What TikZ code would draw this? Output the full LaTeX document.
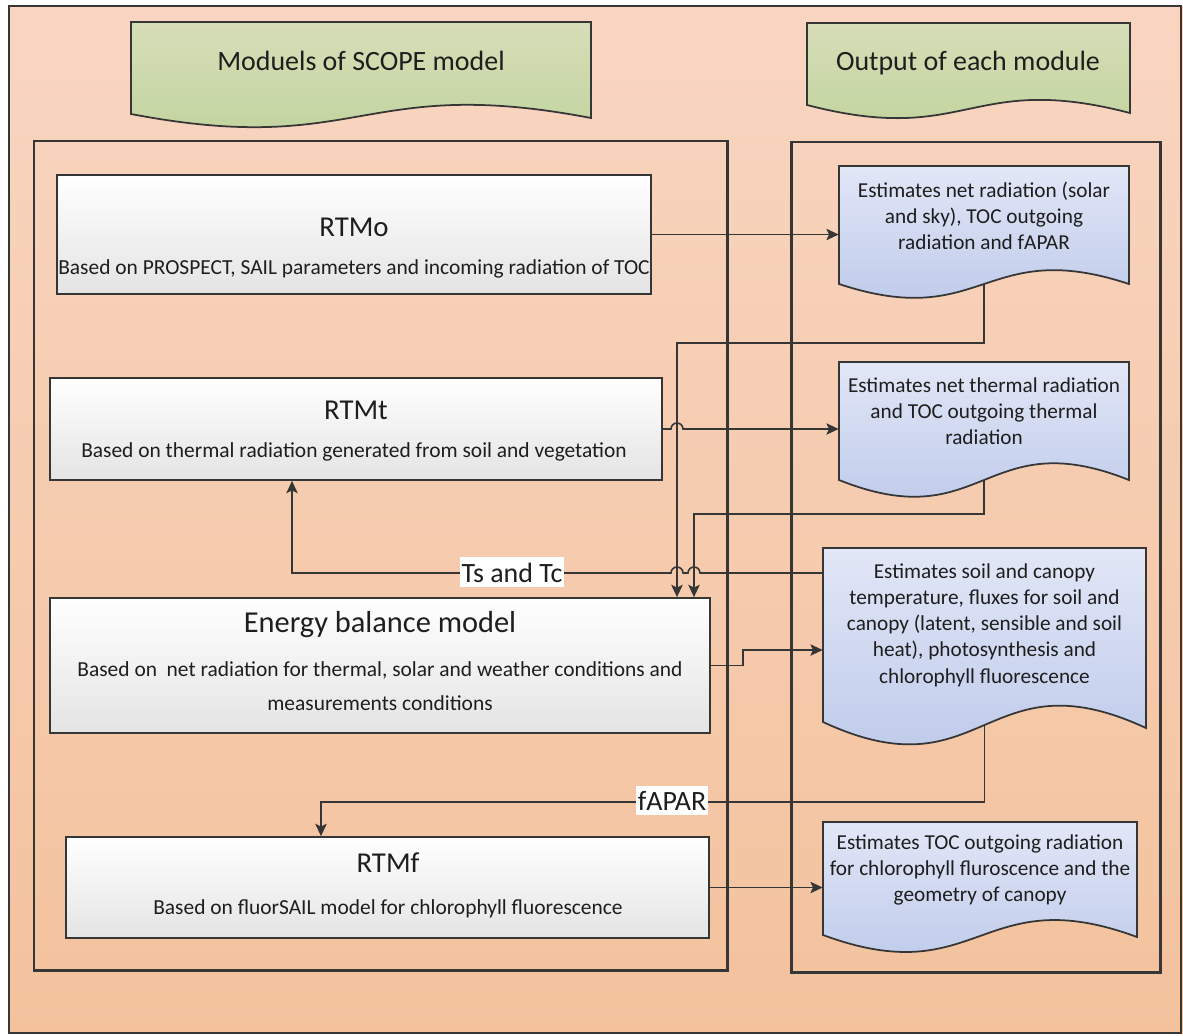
\documentclass[tikz,border=0pt]{standalone}
\usepackage{fontspec}
\setmainfont{Carlito}
\usetikzlibrary{arrows.meta,calc}
\definecolor{ink}{HTML}{363636}
\definecolor{txt}{HTML}{1E1E1E}
\definecolor{bgtop}{HTML}{F9D5C1}
\definecolor{bgbot}{HTML}{F3C29D}
\definecolor{grtop}{HTML}{D7DEB8}
\definecolor{grbot}{HTML}{BDD29A}
\definecolor{bltop}{HTML}{E2E7F7}
\definecolor{blbot}{HTML}{B8C5E8}
\definecolor{whbot}{HTML}{E4E4E4}
\newcommand\docshape[7]{\path[#1] (#2,#3) -- (#4,#3) -- (#4,#6) .. controls ({(#2+#4)/2},{#6-#7}) and ({(#2+#4)/2},{#5+#7}) .. (#2,#5) -- cycle;}
\tikzset{
  bigbox/.style={draw=ink, line width=1.7pt},
  modbox/.style={draw=ink, line width=1pt, top color=white, bottom color=whbot, rectangle, inner sep=0pt},
  docshade/.style={draw=ink, line width=1pt, top color=bltop, bottom color=blbot},
  bannershade/.style={draw=ink, line width=1pt, top color=grtop, bottom color=grbot},
  docanchor/.style={rectangle, inner sep=0pt},
  conn/.style={draw=ink, line width=0.9pt},
  arr/.style={conn, -{Stealth[length=7pt,width=6.5pt,inset=1.5pt]}},
  bannertxt/.style={font=\fontsize{15.9}{19}\selectfont, text=txt, anchor=base, inner sep=0pt},
  titletxt/.style={font=\fontsize{16.4}{19.7}\selectfont, text=txt, anchor=base, inner sep=0pt},
  bigtitletxt/.style={font=\fontsize{17.3}{20.8}\selectfont, text=txt, anchor=base, inner sep=0pt},
  subtxt/.style={font=\fontsize{12.2}{14.6}\selectfont, text=txt, anchor=base, inner sep=0pt},
  doctxt/.style={font=\fontsize{12.1}{14.9}\selectfont, text=txt, align=center, inner sep=0pt},
  lbl/.style={font=\fontsize{15.9}{19}\selectfont, text=txt, fill=white, inner xsep=1pt, inner ysep=3pt, anchor=base}
}
\begin{document}
\begin{tikzpicture}[x=0.02cm,y=-0.02cm]
\useasboundingbox (0,0) rectangle (1183,1035);
\fill[white] (0,0) rectangle (1183,1035);
\shade[top color=bgtop, bottom color=bgbot] (9,6) rectangle (1183,1033);
\draw[ink, line width=0.6pt] (9,6) rectangle (1181,1033);

% banners
\docshape{bannershade}{131}{22}{591}{114}{118}{44}
\docshape{bannershade}{807}{23}{1130}{105}{113}{42}
\node[bannertxt] (bl) at (361,70) {Moduels of SCOPE model};
\node[bannertxt] (br) at (968,70) {Output of each module};

% big boxes
\draw[bigbox] (34,141) rectangle (727,970);
\draw[bigbox] (791,142) rectangle (1160,972);

% output documents
\docshape{docshade}{839}{166}{1129}{284}{284}{48}
\docshape{docshade}{839}{362}{1129}{480}{480}{58}
\docshape{docshade}{823}{548}{1146}{722}{728}{75}
\docshape{docshade}{823}{822}{1137}{935}{937}{58}
\node[docanchor, minimum width=5.8cm, minimum height=2.36cm] (d1) at (984,225) {};
\node[docanchor, minimum width=5.8cm, minimum height=2.36cm] (d2) at (984,421) {};
\node[docanchor, minimum width=6.46cm, minimum height=3.54cm] (d3) at (984.5,636.5) {};
\node[docanchor, minimum width=6.28cm, minimum height=2.28cm] (d4) at (980,879) {};
\node[doctxt] (d1t) at (984,216) {Estimates net radiation (solar\\and sky), TOC outgoing\\radiation and fAPAR};
\node[doctxt] (d2t) at (984,411) {Estimates net thermal radiation\\and TOC outgoing thermal\\radiation};
\node[doctxt] (d3t) at (984.5,625) {Estimates soil and canopy\\temperature, fluxes for soil and\\canopy (latent, sensible and soil\\heat), photosynthesis and\\chlorophyll fluorescence};
\node[doctxt] (d4t) at (980,870) {Estimates TOC outgoing radiation\\for chlorophyll fluroscence and the\\geometry of canopy};

% module boxes
\node[modbox, minimum width=11.88cm, minimum height=2.38cm] (rtmo) at (354,234.5) {};
\node[modbox, minimum width=12.24cm, minimum height=2.04cm] (rtmt) at (356,429) {};
\node[modbox, minimum width=13.2cm, minimum height=2.7cm] (energy) at (380,665.5) {};
\node[modbox, minimum width=12.86cm, minimum height=2.02cm] (rtmf) at (387.5,887.5) {};

\node[titletxt] (rtmoT) at (354,236) {RTMo};
\node[subtxt] (rtmoS) at (354,274) {Based on PROSPECT, SAIL parameters and incoming radiation of TOC};
\node[titletxt] (rtmtT) at (356,419) {RTMt};
\node[subtxt] (rtmtS) at (354,457) {Based on thermal radiation generated from soil and vegetation};
\node[bigtitletxt] (enT) at (380,632) {Energy balance model};
\node[subtxt] (enS1) at (380,676) {Based on \ net radiation for thermal, solar and weather conditions and};
\node[subtxt] (enS2) at (380,710) {measurements conditions};
\node[titletxt] (rtmfT) at (388,872) {RTMf};
\node[subtxt] (rtmfS) at (388,914) {Based on fluorSAIL model for chlorophyll fluorescence};

% connectors
\coordinate (j1) at (677,343);
\coordinate (j2) at (694,514);
\coordinate (e1) at (743,650);
\coordinate (tsc) at (292,573);
\coordinate (fa) at (321,802);

\draw[arr] (rtmo.east) -- (rtmo.east -| d1.west);
\draw[arr] (rtmt.east) -- ($(j1 |- rtmt.east)+(-6,0)$) arc[start angle=180, end angle=0, radius=0.12cm] -- (rtmt.east -| d2.west);
\draw[arr] (d1.south) |- (j1) -- (j1 |- energy.north);
\draw[arr] (d2.south) |- (j2) -- (j2 |- energy.north);
\draw[arr] (d3.west |- tsc) -- ($(j2 |- tsc)+(6,0)$) arc[start angle=0, end angle=180, radius=0.12cm] -- ($(j1 |- tsc)+(6,0)$) arc[start angle=0, end angle=180, radius=0.12cm] -- (tsc) -- (tsc |- rtmt.south);
\draw[arr] (energy.east) -| (e1) -- (e1 -| d3.west);
\draw[arr] (d3.south) |- (fa) -- (fa |- rtmf.north);
\draw[arr] (rtmf.east) -- (rtmf.east -| d4.west);

\node[lbl] (tsl) at (512,582) {Ts and Tc};
\node[lbl] (fal) at (672,810) {fAPAR};
\end{tikzpicture}
\end{document}
